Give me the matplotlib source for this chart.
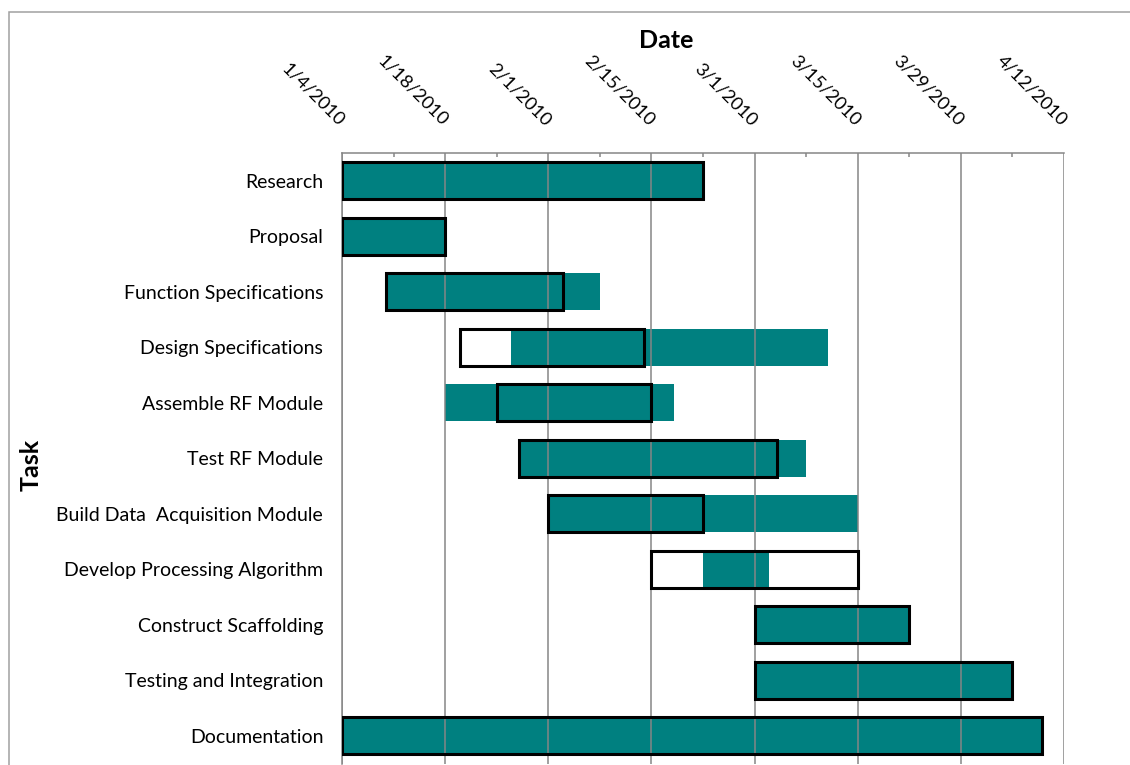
import matplotlib
matplotlib.use("Agg")
import matplotlib.pyplot as plt
import matplotlib.dates as mdates
import matplotlib.patches as mpatches
from matplotlib.ticker import FixedLocator

tasks = ["Research", "Proposal", "Function Specifications", "Design Specifications",
         "Assemble RF Module", "Test RF Module", "Build Data  Acquisition Module",
         "Develop Processing Algorithm", "Construct Scaffolding",
         "Testing and Integration", "Documentation"]
planned_start = ["2010-01-04", "2010-01-04", "2010-01-10", "2010-01-20", "2010-01-25",
                 "2010-01-28", "2010-02-01", "2010-02-15", "2010-03-01", "2010-03-01",
                 "2010-01-04"]
planned_end = ["2010-02-22", "2010-01-18", "2010-02-03", "2010-02-14", "2010-02-15",
               "2010-03-04", "2010-02-22", "2010-03-15", "2010-03-22", "2010-04-05",
               "2010-04-09"]
actual_start = ["2010-01-04", "2010-01-04", "2010-01-10", "2010-01-27", "2010-01-18",
                "2010-01-28", "2010-02-01", "2010-02-22", "2010-03-01", "2010-03-01",
                "2010-01-04"]
actual_end = ["2010-02-22", "2010-01-18", "2010-02-08", "2010-03-11", "2010-02-18",
              "2010-03-08", "2010-03-15", "2010-03-03", "2010-03-22", "2010-04-05",
              "2010-04-09"]
tick_dates = ["2010-01-04", "2010-01-18", "2010-02-01", "2010-02-15", "2010-03-01",
              "2010-03-15", "2010-03-29", "2010-04-12"]
tick_labels = ["1/4/2010", "1/18/2010", "2/1/2010", "2/15/2010", "3/1/2010",
               "3/15/2010", "3/29/2010", "4/12/2010"]
x_title = "Date"
y_title = "Task"

plt.rcParams['font.family'] = ['Lato', 'DejaVu Sans']

W, H = 1130, 765
fig = plt.figure(figsize=(W / 100, H / 100), dpi=100)
ax = fig.add_axes([342 / W, 1 - 763.5 / H, (1064 - 342) / W, (763.5 - 153) / H])

ys = list(range(len(tasks)))
ps = mdates.datestr2num(planned_start)
pe = mdates.datestr2num(planned_end)
as_ = mdates.datestr2num(actual_start)
ae = mdates.datestr2num(actual_end)
ticks = mdates.datestr2num(tick_dates)

teal = "#008080"
ax.barh(ys, ae - as_, left=as_, height=0.66, color=teal, edgecolor="none", zorder=1)
ax.barh(ys, pe - ps, left=ps, height=0.66, facecolor="none", edgecolor="black",
        linewidth=2.2, zorder=3)

ax.set_xlim(ticks[0], ticks[-1])
ax.set_ylim(len(tasks) - 0.5, -0.5)

ax.xaxis.set_major_locator(FixedLocator(ticks))
minor = [t + 7 for t in ticks[:-1]]
ax.xaxis.set_minor_locator(FixedLocator(minor))
ax.xaxis.tick_top()
ax.set_xticklabels(tick_labels, rotation=-45, ha="right", va="center",
                   rotation_mode="anchor", fontsize=13.3)
ax.tick_params(axis="x", which="major", length=0, pad=21.5)
ax.tick_params(axis="x", which="minor", direction="in", length=3, width=1.1,
               color="#868686", top=True, bottom=False)
ax.grid(axis="x", which="major", color="#868686", linewidth=1.1, zorder=2)
ax.set_axisbelow(False)
for gl in ax.get_xgridlines():
    gl.set_zorder(2)

ax.set_yticks(ys)
ax.set_yticklabels(tasks, fontsize=14)
ax.tick_params(axis="y", length=0, pad=13.5)

for s in ["bottom", "right"]:
    ax.spines[s].set_visible(False)
for s in ["top", "left"]:
    ax.spines[s].set_color("#868686")
    ax.spines[s].set_linewidth(1.1)

fig.text(666 / W, 1 - 40 / H, x_title, ha="center", va="center",
         fontsize=18, fontweight="bold")
fig.text(31 / W, 1 - 465 / H, y_title, ha="center", va="center",
         fontsize=18, fontweight="bold", rotation=90)

border = mpatches.Rectangle((8.5 / W, -0.05), 1.2, 1.05 - 12 / H,
                            transform=fig.transFigure, fill=False,
                            edgecolor="#a0a0a0", linewidth=1.1)
fig.patches.append(border)

fig.savefig("out.png", dpi=100)
